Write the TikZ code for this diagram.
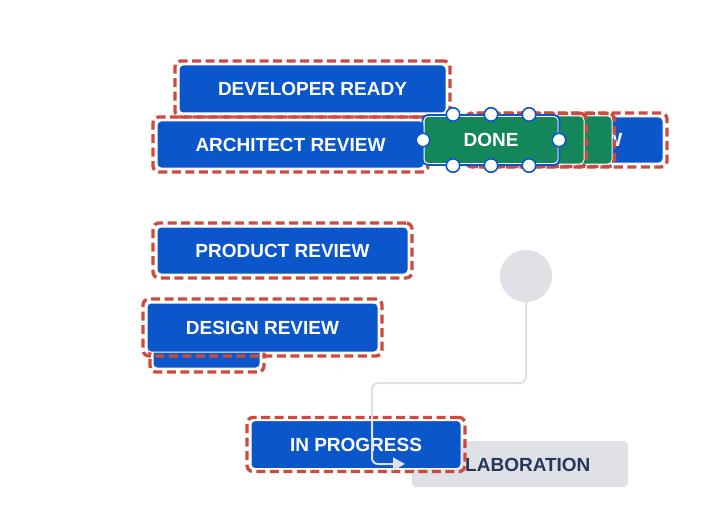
\documentclass[tikz,border=0pt]{standalone}
\usepackage{fontspec}
\setmainfont{Liberation Sans}
\usetikzlibrary{fit,arrows.meta}
\definecolor{jblue}{HTML}{0C56CB}
\definecolor{jgreen}{HTML}{14875A}
\definecolor{jred}{HTML}{CF4A3E}
\definecolor{lgray}{HTML}{DFE1E6}
\definecolor{navy}{HTML}{253858}
\begin{document}
\begin{tikzpicture}[x=1pt,y=-1pt,
  lbl/.style={font=\bfseries\fontsize{19}{21}\selectfont},
  box/.style={rectangle, rounded corners=4pt, draw=white, line width=1pt, text=white, lbl, inner sep=0pt},
  bluebox/.style={box, fill=jblue},
  greenbox/.style={box, fill=jgreen},
  outl/.style={rectangle, draw=jred, dash pattern=on 9pt off 4.5pt, line width=3.3pt, rounded corners=6pt, inner sep=4pt},
  handle/.style={circle, fill=white, draw=jblue, line width=1.6pt, minimum size=13.5pt, inner sep=0pt},
  conn/.style={draw=lgray, line width=2pt, rounded corners=6pt, -{Triangle[length=12pt,width=13pt]}}
]
\useasboundingbox (0,0) rectangle (720,524);
\fill[white] (0,0) rectangle (720,524);

% hidden stack behind DONE
\node[bluebox, minimum width=193pt, minimum height=46pt] (wbox) at (566.5,140) {};
\node[outl, inner sep=3.5pt, fit=(wbox)] (wboxo) {};
\node[anchor=east, text=white, lbl, inner sep=0pt] (wtxt) at (622.5,140) {W};
\node[greenbox, minimum width=142pt, minimum height=48pt] (gtwo) at (541,140) {};
\node[outl, inner sep=2pt, fit=(gtwo)] (gtwoo) {};
\node[greenbox, minimum width=114pt, minimum height=48pt] (gone) at (527,140) {};
\node[outl, inner sep=2pt, fit=(gone)] (goneo) {};

% developer ready
\node[outl, minimum width=275pt, minimum height=56pt, inner sep=0pt] (devo) at (312.5,89) {};
\node[bluebox, minimum width=267pt, minimum height=48pt] (dev) at (312.5,89) {DEVELOPER READY};

% architect review
\node[outl, minimum width=275pt, minimum height=55pt, inner sep=0pt] (archo) at (290.5,144.5) {};
\node[bluebox, minimum width=267pt, minimum height=47pt] (arch) at (290.5,144.5) {ARCHITECT REVIEW};

% done (selected)
\node[greenbox, minimum width=134pt, minimum height=47pt] (done) at (491,140) {DONE};
\node[rectangle, draw=jblue, line width=1.8pt, rounded corners=5pt, fit=(done), inner sep=1pt] (donesel) {};
\node[handle] (ha) at (423,140) {};
\node[handle] (hb) at (559,140) {};
\node[handle] (hc) at (453,114.5) {};
\node[handle] (hd) at (491,114.5) {};
\node[handle] (he) at (529,114.5) {};
\node[handle] (hf) at (453,165.5) {};
\node[handle] (hg) at (491,165.5) {};
\node[handle] (hh) at (529,165.5) {};

% product review
\node[outl, minimum width=259pt, minimum height=55pt, inner sep=0pt] (prodo) at (282.5,250.5) {};
\node[bluebox, minimum width=251pt, minimum height=47pt] (prod) at (282.5,250.5) {PRODUCT REVIEW};

% small box under design review
\node[outl, minimum width=114pt, minimum height=56pt, inner sep=0pt] (smallo) at (207,344) {};
\node[bluebox, minimum width=107pt, minimum height=48pt] (small) at (206.5,344) {};

% design review
\node[outl, minimum width=239pt, minimum height=57pt, inner sep=0pt] (deso) at (262.5,327.5) {};
\node[bluebox, minimum width=231pt, minimum height=49pt] (des) at (262.5,327.5) {DESIGN REVIEW};

% circle
\node[circle, fill=lgray, minimum size=52pt, inner sep=0pt] (circ) at (526,276) {};

% collaboration (grey)
\node[rectangle, rounded corners=4pt, fill=lgray, minimum width=216pt, minimum height=46pt, inner sep=0pt] (collab) at (520,464) {};
\node[anchor=west, text=navy, lbl, inner sep=0pt] (collabtxt) at (465,464.5) {LABORATION};

% in progress
\node[outl, minimum width=218pt, minimum height=54pt, inner sep=0pt] (inpo) at (356,444.5) {};
\node[bluebox, minimum width=210pt, minimum height=48pt] (inp) at (356,444.5) {IN PROGRESS};

% connector
\coordinate (arrend) at (405,464);
\draw[conn] (circ.south) -- (526,383) -- (372,383) -- (372,464) -- (arrend);
\end{tikzpicture}
\end{document}
